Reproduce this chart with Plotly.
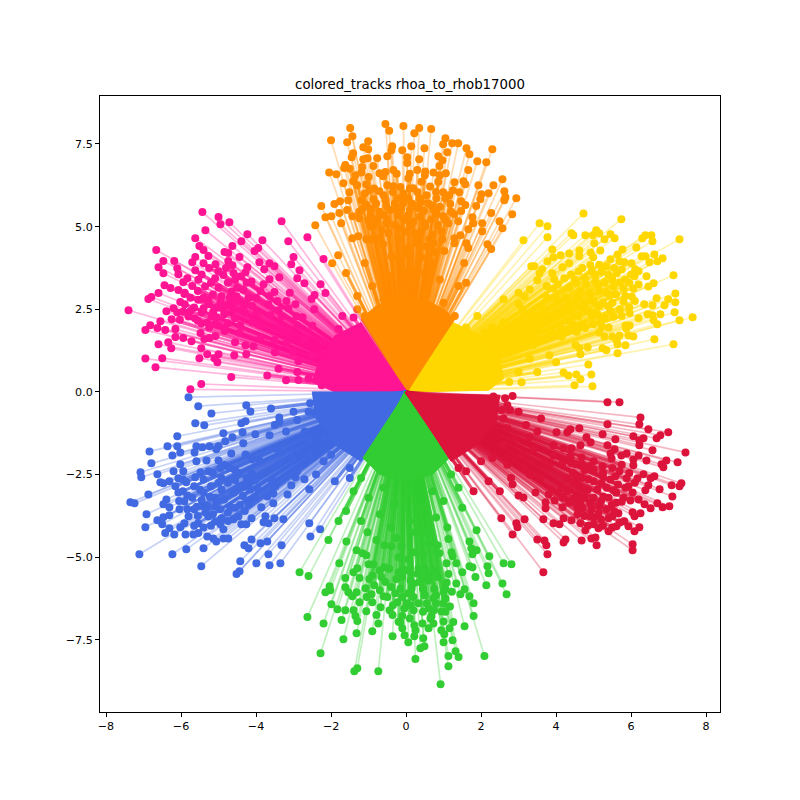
import plotly.graph_objects as go

# ── Track end points (all tracks start at the origin) ──

gold_ends = [(4.73,5.40),(5.74,5.22),(3.56,5.10),(3.77,5.01),(3.77,4.68),(3.13,4.59),(4.41,4.80),(4.46,4.74),(4.78,4.74),(5.07,4.89),
    (4.98,4.74),(5.15,4.80),(5.45,4.77),(5.56,4.65),(5.29,4.62),(5.02,4.50),(5.18,4.28),(7.29,4.62),(6.38,4.74),(6.54,4.74),
    (6.30,4.65),(6.57,4.56),(6.14,4.37),(5.77,4.31),(3.90,4.31),(4.12,4.13),(3.93,4.07),(3.77,3.95),(4.35,4.19),(4.62,4.28),
    (4.62,4.10),(4.92,4.22),(4.99,4.07),(5.64,4.16),(5.45,4.01),(5.69,3.95),(5.82,3.92),(6.01,3.89),(6.28,4.10),(6.38,4.10),
    (6.62,4.16),(6.84,4.04),(6.49,3.92),(6.70,3.95),(6.11,3.71),(6.20,3.65),(6.09,3.50),(6.41,3.50),(7.13,3.53),(6.60,3.29),
    (6.46,3.19),(7.18,2.98),(6.99,2.80),(7.18,2.71),(6.68,2.83),(6.89,2.62),(6.57,2.62),(6.35,2.65),(7.16,2.41),(6.78,2.35),
    (7.64,2.26),(7.29,2.17),(6.44,2.35),(6.57,2.32),(6.20,2.23),(5.96,2.38),(6.60,2.17),(6.70,2.05),(6.62,1.59),(7.13,1.44),
    (5.85,2.01),(5.96,2.01),(5.87,1.92),(6.06,1.68),(5.93,1.71),(5.85,1.41),(5.64,1.17),(5.69,1.71),(5.50,1.68),(5.61,1.56),
    (5.64,1.44),(5.29,1.68),(5.34,1.26),(5.24,1.32),(4.84,1.35),(4.52,1.41),(4.62,1.32),(4.65,1.14),(3.82,1.11),(4.86,0.83),
    (4.94,0.53),(4.20,0.59),(4.33,0.50),(4.54,0.53),(4.65,0.38),(4.49,0.20),(4.97,0.17),(3.08,0.29),(3.34,3.80),(3.42,3.80),
    (3.63,3.71),(3.56,3.59),(3.50,3.38),(3.90,3.59),(3.95,3.41),(4.17,3.77),(4.35,3.89),(4.22,3.44),(4.60,3.64),(4.77,3.44),
    (4.55,3.29),(4.91,3.84),(5.04,3.54),(5.22,3.64),(5.40,3.54),(5.62,3.59),(5.84,3.39),(5.13,3.23),(5.53,3.18),(5.80,3.13),
    (6.06,3.13),(6.02,2.88),(5.80,2.73),(5.44,2.93),(5.40,2.58),(5.13,2.58),(4.91,2.78),(4.60,2.88),(4.37,2.68),(3.93,3.13),
    (4.02,2.78),(4.68,2.53),(4.95,2.33),(5.31,2.23),(5.53,2.27),(5.22,1.97),(4.77,1.93),(4.55,1.82),(4.33,2.17),(4.11,1.93),
    (4.15,1.67),(3.16,2.88),(3.00,2.66),(3.31,2.38),(3.66,2.38),(3.84,1.87),(3.39,1.42)]
gold_dense = [(4.4,3.55),(4.7,3.75),(4.95,3.65),(5.15,3.85),(5.35,3.8),(5.55,3.75),(5.75,3.7),(6.0,3.55),(4.5,3.4),(4.8,3.25),
    (5.05,3.35),(5.3,3.3),(5.5,3.4),(5.7,3.3),(5.95,3.3),(6.2,3.25),(4.35,3.15),(4.65,3.05),(4.9,3.0),(5.15,3.05),
    (5.35,3.0),(5.6,2.95),(5.85,2.9),(6.1,2.75),(4.25,2.85),(4.5,2.7),(4.75,2.65),(5.0,2.75),(5.25,2.7),(5.5,2.7),
    (5.7,2.5),(5.95,2.55),(4.4,2.45),(4.6,2.3),(4.85,2.45),(5.1,2.35),(5.2,2.15),(5.45,2.45),(5.75,2.3),(4.2,2.4),
    (4.45,2.05),(4.7,2.05),(5.0,2.05),(5.15,1.8),(5.4,1.95),(4.05,2.35),(3.75,2.85),(4.05,3.25),(3.75,3.2),(3.6,2.6)]
gold_rim = [(3.0,2.0),(2.6,2.1),(3.2,1.5),(3.5,1.9),(3.3,1.0),(3.0,0.6),(2.8,1.3),(2.3,1.95),(2.75,0.3),(2.5,1.6),
    (2.1,1.8),(1.6,1.95),(1.9,2.3),(3.3,3.1),(2.6,2.8),(3.0,3.0),(3.5,0.6),(4.0,0.9),(3.1,2.5)]

orange_ends = [(-1.49,7.98),(-0.55,8.10),(-0.45,7.90),(-0.07,8.04),(0.35,7.98),(0.22,7.82),(0.67,7.95),(-2.00,7.61),(-1.43,7.73),(-1.57,7.55),
    (-1.01,7.58),(1.05,7.67),(0.99,7.49),(1.23,7.52),(1.39,7.52),(1.61,7.37),(1.69,7.19),(2.30,7.34),(1.90,6.98),(2.14,6.95),
    (1.10,7.25),(0.49,7.37),(-0.10,7.31),(-0.37,7.43),(0.14,7.43),(-0.39,7.31),(-0.50,7.13),(-1.14,7.40),(-1.41,7.22),(-1.45,7.10),
    (-1.01,7.34),(-1.14,7.04),(-0.77,7.07),(-1.03,7.07),(-1.62,6.86),(-1.65,6.77),(-2.05,6.64),(-1.86,6.58),(-1.17,6.80),(-1.19,6.64),
    (-0.87,6.83),(-0.71,6.61),(-0.61,6.52),(-0.34,6.71),(0.03,7.10),(0.03,6.92),(0.35,7.04),(0.30,6.71),(0.51,6.67),(0.86,7.13),
    (0.97,7.01),(0.89,6.83),(0.73,6.64),(1.06,6.61),(1.66,6.71),(2.57,6.43),(1.29,6.34),(1.53,6.37),(1.58,6.28),(1.93,6.25),
    (2.33,6.25),(2.62,6.07),(2.20,6.01),(2.01,5.98),(1.98,5.83),(2.65,5.89),(2.62,5.80),(2.94,5.86),(1.87,5.62),(2.27,5.41),
    (2.83,5.37),(2.49,5.16),(2.57,4.95),(2.03,5.10),(2.03,4.86),(1.77,5.28),(1.79,5.10),(1.66,4.92),(1.42,6.04),(1.47,5.77),
    (1.58,5.65),(1.47,5.47),(1.18,5.68),(0.99,6.04),(1.15,5.95),(1.29,5.37),(1.39,5.16),(1.13,5.10),(0.99,5.31),(1.45,4.74),
    (1.29,4.65),(1.29,4.50),(1.61,4.50),(1.66,4.35),(2.17,4.47),(2.27,4.32),(1.02,4.26),(0.97,4.62),(0.75,4.23),(0.73,4.50),
    (0.62,4.62),(0.51,5.01),(0.11,5.04),(0.30,4.65),(0.06,4.35),(0.06,4.16),(0.41,4.07),(-0.39,4.10),(0.19,3.68),(-1.81,4.13),
    (-1.97,3.89),(-2.42,5.04),(-2.26,5.62),(-2.15,5.28),(-1.99,5.31),(-1.91,5.68),(-1.78,5.41),(-1.73,5.10),(-1.57,5.50),(-1.76,5.77),
    (-1.54,5.80),(-1.51,6.04),(-1.67,6.31),(-1.41,6.37),(-1.30,6.25),(-1.43,5.31),(-1.25,5.25),(-1.43,4.65),(-1.27,4.71),(-1.06,4.62),
    (-0.95,4.62),(-0.74,4.65),(-0.61,4.47),(-0.47,4.80),(-0.21,4.65),(-1.01,5.19),(-0.95,5.01),(-0.79,5.22),(-0.61,5.34),(-0.53,5.10),
    (-1.19,5.80),(-1.17,5.53),(-0.93,5.53),(-0.87,5.83),(-1.06,6.28),(-0.98,6.10),(-0.71,6.07),(-0.50,6.25),(-0.34,6.22),(-0.53,5.62),
    (-0.21,5.86),(-0.07,6.01),(0.06,6.46),(-0.07,5.71),(-0.21,5.56),(0.06,5.86),(0.19,6.16),(0.41,6.36),(0.64,6.21),(0.86,6.36),
    (0.37,5.86),(0.59,5.71),(0.81,5.86),(0.73,5.51),(0.33,5.56),(0.37,5.30),(0.68,5.22),(-0.21,5.35),(0.10,5.50),(0.24,4.80),
    (-0.03,4.85),(0.28,4.50),(0.55,4.40)]
orange_dense = [(-1.1,6.0),(-0.85,6.15),(-0.6,5.95),(-0.35,6.05),(-0.15,6.2),(0.1,6.15),(0.3,6.05),(0.55,5.95),(0.8,6.05),(1.05,5.85),
    (-1.05,5.65),(-0.8,5.7),(-0.55,5.8),(-0.3,5.7),(-0.1,5.85),(0.15,5.7),(0.4,5.75),(0.65,5.65),(0.9,5.6),(1.2,5.45),
    (-1.25,5.45),(-0.95,5.35),(-0.7,5.45),(-0.42,5.5),(-0.12,5.55),(0.05,5.35),(0.22,5.62),(0.48,5.48),(0.82,5.38),(1.05,5.2),
    (-0.85,5.05),(-0.5,5.2),(-0.3,5.05),(-0.05,5.2),(0.2,5.15),(0.5,5.1),(0.85,5.05),(0.95,4.85),(-0.65,4.9),(-0.2,4.95),
    (0.4,4.85),(0.7,4.75),(-0.55,6.65),(-0.25,6.6),(0.1,6.6),(0.5,6.55),(0.9,6.55),(-1.0,6.5),(-1.35,6.55),(-1.5,6.75),(1.25,6.1)]
orange_rim = [(-0.9,3.2),(-0.4,3.5),(0.1,3.3),(0.5,3.6),(0.9,3.4),(1.4,3.2),(-1.3,2.9),(-0.6,2.8),(0,2.95),(0.5,3.0),
    (1.0,2.7),(1.3,2.3),(-1.1,2.3),(-1.3,2.5),(0.0,3.6),(-0.2,4.0),(1.6,3.3),(0.7,3.9),(-1.1,3.9),(1.55,3.9),(-1.6,3.6)]

pink_ends = [(-5.43,5.44),(-5.00,5.29),(-4.95,5.07),(-4.71,5.13),(-3.32,5.16),(-5.35,4.89),(-5.62,4.65),(-4.23,4.77),(-4.39,4.56),(-3.83,4.59),
    (-3.14,4.56),(-2.63,4.68),(-6.66,4.29),(-5.51,4.41),(-5.40,4.29),(-4.63,4.41),(-3.94,4.35),(-4.04,4.26),(-4.84,4.23),(-4.74,4.20),
    (-5.27,4.11),(-4.44,4.08),(-2.20,4.02),(-3.00,4.08),(-3.06,3.86),(-6.47,3.96),(-6.60,3.77),(-6.18,3.96),(-5.62,4.08),(-5.70,3.92),
    (-5.40,3.89),(-5.08,3.86),(-4.74,3.96),(-4.63,3.83),(-3.91,3.92),(-3.64,3.89),(-3.51,3.80),(-4.23,3.77),(-4.28,3.62),(-3.78,3.71),
    (-2.84,3.68),(-6.47,3.59),(-6.10,3.74),(-6.07,3.56),(-5.62,3.68),(-3.38,3.47),(-3.64,3.41),(-2.90,3.44),(-2.71,3.29),(-2.28,3.26),
    (-2.15,2.99),(-2.44,2.93),(-2.52,2.81),(-5.94,3.32),(-5.83,3.44),(-6.44,3.23),(-6.28,3.14),(-6.60,2.99),(-6.79,2.87),(-6.87,2.81),
    (-6.07,3.08),(-5.91,2.96),(-6.02,2.72),(-7.40,2.47),(-6.39,2.44),(-6.20,2.53),(-6.55,2.14),(-6.82,2.02),(-6.95,1.87),(-6.63,1.93),
    (-6.42,1.87),(-6.15,1.90),(-6.15,1.66),(-5.94,1.63),(-5.72,1.53),(-6.34,1.50),(-6.60,1.44),(-6.26,1.32),(-6.95,1.01),(-6.50,1.02),
    (-6.68,0.75),(-5.51,1.02),(-5.30,1.14),(-5.00,1.14),(-5.11,1.02),(-5.03,0.90),(-4.58,1.11),(-4.26,1.14),(-5.46,1.32),(-4.66,0.45),
    (-2.87,0.36),(-5.46,0.24),(-5.75,0.08),(-4.56,1.50),(-4.28,1.41),(-4.07,1.38),(-3.88,1.66),(-4.44,1.78),(-5.08,1.69),(-5.24,1.63),
    (-5.38,1.60),(-5.48,1.78),(-4.84,1.84),(-5.00,2.02),(-3.91,2.02),(-4.42,2.02),(-4.10,2.11),(-3.38,1.96),(-3.16,1.87),(-3.51,1.57),
    (-3.19,1.47),(-2.87,0.93),(-2.20,1.17),(-2.76,2.26),(-2.92,2.29),(-2.95,2.65),(-3.19,2.75),(-3.14,2.53),(-3.43,2.75),(-3.40,2.47),
    (-3.64,2.90),(-3.51,3.02),(-3.88,3.05),(-3.80,3.26),(-3.67,2.65),(-3.99,2.38),(-3.99,2.84),(-3.62,2.32),(-3.32,2.28),(-4.31,2.62),
    (-4.38,2.48),(-4.56,2.23),(-4.74,2.08),(-5.63,2.23),(-5.80,2.28),(-6.03,2.18),(-5.94,2.43),(-5.54,3.39),(-5.36,3.19),(-5.09,3.44),
    (-4.87,3.54),(-4.56,3.39),(-4.34,3.09),(-4.65,3.04),(-4.92,2.89),(-5.27,2.79),(-5.54,2.79),(-5.40,2.53),(-5.14,2.43),(-4.74,2.63),
    (-4.52,2.89),(-4.12,3.34),(-5.45,2.08),(-5.18,2.28)]
pink_dense = [(-5.7,3.2),(-5.45,3.55),(-5.25,3.75),(-5.0,3.65),(-4.8,3.75),(-4.6,3.6),(-4.4,3.5),(-5.75,2.85),(-5.55,3.05),(-5.2,3.3),
    (-5.0,3.15),(-4.75,3.3),(-4.5,3.15),(-4.25,3.3),(-5.65,2.55),(-5.4,2.85),(-5.15,2.95),(-4.95,2.7),(-4.7,2.85),(-4.45,2.75),
    (-4.2,2.85),(-5.75,2.45),(-5.45,2.4),(-5.25,2.65),(-5.05,2.55),(-4.85,2.35),(-4.6,2.5),(-4.3,2.4),(-5.55,2.15),(-5.3,2.1),
    (-5.05,2.25),(-4.9,2.55),(-5.1,2.05),(-4.65,2.7),(-4.1,2.6),(-5.9,3.0),(-5.9,2.65),(-6.1,2.4),(-6.25,2.2),(-5.25,1.95),(-4.85,1.95)]
pink_rim = [(-3.0,1.2),(-2.7,1.6),(-2.5,2.0),(-2.9,2.0),(-2.6,0.4),(-2.9,0.6),(-2.5,1.1),(-2.2,1.5),(-2.15,0.7),(-1.8,1.9),
    (-1.4,2.25),(-1.7,2.3),(-3.5,1.2),(-3.4,0.7),(-2.45,2.5),(-3.1,3.0),(-2.25,0.2),(-3.7,0.5),(-3.2,0.35)]

blue_ends = [(-5.80,-0.16),(-5.54,-0.43),(-5.19,-0.65),(-4.26,-0.40),(-4.15,-0.59),(-5.62,-0.95),(-5.38,-1.01),(-4.39,-0.95),(-4.28,-0.89),(-3.38,-0.77),
    (-3.38,-0.92),(-2.90,-0.85),(-2.56,-0.34),(-6.10,-1.34),(-4.87,-1.25),(-4.36,-1.22),(-4.02,-1.28),(-3.64,-1.31),(-4.82,-1.49),(-4.63,-1.37),
    (-6.84,-1.80),(-6.36,-1.64),(-6.10,-1.64),(-6.02,-1.83),(-6.23,-1.92),(-5.59,-1.64),(-5.64,-1.83),(-5.43,-1.67),(-5.24,-1.64),(-5.00,-1.64),
    (-5.06,-1.73),(-4.34,-1.55),(-4.66,-1.86),(-6.79,-2.16),(-6.02,-2.19),(-5.59,-2.10),(-5.32,-2.07),(-5.00,-2.07),(-4.28,-1.89),(-4.10,-2.04),
    (-3.91,-2.07),(-7.08,-2.43),(-7.06,-2.58),(-6.63,-2.49),(-6.20,-2.40),(-5.94,-2.40),(-6.55,-2.73),(-6.47,-2.76),(-6.31,-2.70),(-6.07,-2.61),
    (-5.86,-2.73),(-5.62,-2.58),(-5.48,-2.43),(-5.27,-2.40),(-6.87,-3.10),(-7.35,-3.34),(-7.24,-3.37),(-6.07,-3.04),(-6.39,-3.25),(-6.47,-3.40),
    (-6.31,-3.49),(-6.04,-3.55),(-5.83,-3.13),(-5.91,-3.31),(-5.83,-3.55),(-6.92,-3.70),(-6.95,-4.09),(-6.63,-3.88),(-6.47,-3.79),(-6.50,-4.00),
    (-6.31,-3.73),(-5.80,-3.76),(-5.91,-3.97),(-5.54,-3.97),(-6.31,-4.12),(-6.42,-4.27),(-6.18,-4.31),(-6.02,-4.09),(-5.88,-4.31),(-5.67,-4.31),
    (-5.54,-4.27),(-5.30,-4.37),(-5.14,-4.43),(-5.06,-4.52),(-4.87,-4.15),(-4.87,-4.43),(-4.74,-4.43),(-7.11,-4.91),(-6.23,-4.91),(-5.86,-4.76),
    (-5.40,-4.73),(-5.46,-5.27),(-4.31,-4.64),(-4.20,-4.73),(-4.12,-4.46),(-3.88,-4.58),(-3.70,-4.52),(-3.32,-4.64),(-3.67,-4.91),(-4.42,-5.12),
    (-3.99,-5.18),(-3.64,-5.24),(-3.35,-5.18),(-4.44,-5.42),(-4.52,-5.51),(-2.55,-4.37),(-2.58,-3.97),(-2.29,-4.15),(-3.27,-3.85),(-3.51,-3.82),
    (-3.75,-3.76),(-3.80,-3.94),(-3.67,-3.97),(-4.12,-3.82),(-4.26,-4.00),(-4.39,-4.00),(-3.54,-3.37),(-3.86,-3.49),(-3.16,-3.10),(-2.58,-2.94),
    (-3.06,-2.82),(-2.95,-2.58),(-2.71,-2.64),(-3.54,-3.07),(-3.70,-3.16),(-3.58,-2.66),(-3.49,-2.86),(-4.83,-2.21),(-4.56,-2.36),(-4.92,-2.61),
    (-4.56,-2.66),(-4.29,-2.86),(-4.92,-2.96),(-5.23,-3.17),(-5.45,-3.27),(-5.09,-3.47),(-4.69,-3.47),(-4.43,-3.42),(-4.16,-3.27),(-5.27,-3.77),
    (-4.92,-3.82),(-4.47,-3.77),(-5.58,-3.47),(-5.49,-2.96),(-5.09,-3.92),(-4.03,-2.66),(-3.94,-2.96),(-4.12,-2.46),(-2.43,-0.65),(-2.87,-1.76),
    (-2.60,-1.45)]
blue_dense = [(-5.65,-2.85),(-5.4,-2.65),(-5.15,-2.45),(-4.95,-2.3),(-4.7,-2.3),(-4.45,-2.45),(-4.25,-2.6),(-5.7,-3.2),(-5.4,-3.05),(-5.2,-2.85),
    (-5.0,-2.75),(-4.75,-2.75),(-4.45,-2.85),(-4.15,-2.95),(-5.65,-3.55),(-5.45,-3.45),(-5.3,-3.45),(-5.1,-3.2),(-4.85,-3.25),(-4.6,-3.05),
    (-4.35,-3.15),(-4.05,-3.2),(-5.55,-3.75),(-5.35,-3.65),(-5.15,-3.7),(-4.95,-3.55),(-4.75,-3.65),(-4.55,-3.5),(-4.3,-3.6),(-5.05,-3.3),
    (-5.2,-4.05),(-4.95,-4.0),(-4.75,-3.9),(-4.6,-3.85),(-5.4,-4.1),(-5.65,-4.05),(-4.2,-3.4),(-6.15,-2.85),(-5.95,-3.0),(-6.05,-3.3),(-5.95,-2.65)]
blue_rim = [(-3.2,-1.2),(-3.0,-0.6),(-3.4,-1.8),(-3.0,-2.0),(-2.7,-1.2),(-2.6,-0.6),(-2.55,-1.9),(-2.2,-2.1),(-2.0,-1.9),(-1.5,-2.3),
    (-2.9,-2.4),(-1.5,-2.6),(-1.9,-2.7),(-2.4,-2.5),(-3.4,-2.2),(-2.2,-1.4),(-2.2,-0.4),(-3.6,-0.5),(-3.5,-1.0)]

green_ends = [(-1.03,-4.24),(-2.07,-4.48),(-1.59,-4.52),(-0.79,-4.48),(-0.26,-4.42),(0.25,-4.24),(0.62,-4.30),(1.13,-4.45),(1.88,-4.18),(1.69,-4.52),
    (1.74,-4.73),(1.88,-4.79),(1.77,-4.91),(2.22,-4.97),(2.60,-5.18),(2.81,-5.21),(2.17,-5.27),(2.20,-5.48),(2.57,-5.79),(2.68,-6.12),
    (2.14,-5.85),(1.85,-5.60),(1.50,-5.45),(1.69,-5.27),(1.77,-5.30),(1.34,-5.18),(1.08,-5.18),(1.21,-4.85),(1.24,-4.97),(0.89,-4.88),
    (-2.84,-5.45),(-2.60,-5.57),(-1.78,-5.18),(-1.32,-4.79),(-1.16,-4.88),(-1.06,-4.94),(-0.58,-4.64),(-0.39,-4.67),(-0.12,-4.67),(0.22,-4.85),
    (0.46,-4.94),(0.60,-4.58),(0.84,-4.64),(-0.20,-5.00),(0.06,-5.06),(-1.00,-5.21),(-0.87,-5.21),(-0.58,-5.30),(-1.30,-5.33),(-1.40,-5.45),
    (-1.62,-5.63),(-1.24,-5.63),(-0.98,-5.66),(-0.66,-5.60),(-0.26,-5.66),(-0.07,-5.36),(0.33,-5.33),(0.60,-5.48),(1.13,-5.51),(1.08,-5.76),
    (1.34,-5.79),(1.45,-6.12),(1.56,-5.97),(1.69,-6.18),(1.80,-6.39),(1.80,-6.78),(1.56,-7.09),(1.26,-6.96),(1.16,-7.15),(0.94,-7.21),
    (1.02,-7.33),(1.24,-7.51),(1.00,-7.57),(1.32,-7.84),(1.40,-8.02),(1.13,-7.99),(1.13,-8.30),(2.09,-7.99),(0.92,-8.84),(0.25,-8.08),
    (0.38,-7.75),(0.49,-7.69),(0.46,-7.45),(0.06,-7.57),(0.22,-7.39),(-0.04,-7.36),(-0.36,-7.39),(-0.15,-6.97),(-0.10,-7.15),(0.22,-7.06),
    (0.25,-7.21),(0.44,-7.00),(0.60,-7.15),(0.73,-7.00),(0.68,-6.78),(-0.74,-8.45),(-1.30,-8.36),(-1.38,-8.45),(-2.28,-7.90),(-1.67,-7.48),
    (-1.32,-7.30),(-0.90,-7.24),(-0.74,-7.00),(-1.30,-6.93),(-1.35,-6.78),(-1.72,-6.90),(-2.20,-7.00),(-2.63,-6.81),(-1.99,-6.42),(-1.83,-6.57),
    (-1.62,-6.60),(-1.40,-6.60),(-1.06,-6.63),(-0.79,-6.75),(-0.68,-6.51),(-0.44,-6.60),(-0.36,-6.75),(-0.10,-6.78),(-2.15,-6.06),(-2.04,-5.88),
    (-2.02,-6.00),(-1.62,-5.91),(-1.54,-6.06),(-1.32,-6.06),(-1.43,-6.18),(-1.24,-6.36),(-1.08,-5.94),(-0.92,-6.12),(-0.90,-6.36),(-0.60,-6.18),
    (-0.29,-6.09),(-0.23,-6.36),(0.06,-6.09),(0.02,-6.39),(0.33,-6.39),(0.20,-5.79),(0.46,-5.63),(0.73,-6.24),(1.00,-6.04),(0.60,-6.54),
    (0.95,-6.64),(1.17,-6.49),(1.00,-6.94),(1.22,-6.04)]
green_dense = [(-0.9,-5.55),(-0.7,-5.4),(-0.45,-5.35),(-0.2,-5.45),(0.05,-5.4),(0.3,-5.5),(0.5,-5.35),(0.75,-5.4),(-0.55,-5.75),(-0.4,-5.9),
    (-0.1,-5.6),(0.12,-5.7),(0.35,-5.75),(0.6,-5.7),(0.85,-5.6),(-0.85,-5.85),(-0.7,-6.0),(-0.5,-6.2),(-0.15,-5.95),(0.15,-5.95),
    (0.45,-5.95),(0.75,-5.95),(1.05,-5.95),(-1.05,-6.2),(-0.1,-6.2),(0.2,-6.2),(0.5,-6.15),(0.8,-6.15),(1.05,-6.25),(-0.35,-6.45),
    (0.1,-6.45),(0.55,-6.4),(0.8,-6.4),(1.0,-6.4),(0.2,-6.6),(0.45,-6.65),(0.75,-6.6),(1.05,-6.65),(-0.2,-6.95),(0.1,-6.85),(0.65,-6.85),(-0.05,-6.55)]
green_rim = [(-1.2,-2.6),(-0.6,-2.9),(0.1,-3.0),(0.7,-3.0),(1.2,-2.5),(-1.0,-3.2),(-0.3,-3.4),(0.4,-3.5),(1.0,-3.3),(1.4,-2.9),
    (-1.4,-3.0),(-0.7,-3.7),(0.1,-3.9),(0.8,-3.8),(1.5,-3.5),(-1.6,-3.6),(-1.2,-3.9),(1.1,-4.1),(-0.4,-4.1),(0.5,-4.2),(-1.8,-3.9)]

red_ends = [(5.37,-0.31),(5.69,-0.31),(6.25,-0.77),(6.22,-0.98),(5.37,-0.98),(6.46,-1.13),(6.99,-1.22),(6.78,-1.31),(6.68,-1.40),(7.45,-1.83),
    (6.57,-1.76),(6.06,-1.34),(6.33,-1.40),(6.22,-1.46),(6.22,-1.61),(5.58,-1.43),(5.24,-1.28),(4.62,-1.10),(4.38,-1.13),(4.30,-1.22),
    (4.01,-1.22),(3.29,-1.37),(3.40,-1.73),(3.16,-2.31),(2.84,-2.79),(3.00,-3.13),(3.13,-3.19),(3.45,-3.04),(3.58,-2.58),(3.69,-2.10),
    (3.82,-2.22),(3.93,-1.61),(3.93,-1.92),(4.17,-2.16),(4.20,-1.70),(4.41,-1.70),(4.38,-1.95),(4.65,-1.61),(4.68,-1.98),(4.81,-1.37),
    (4.92,-1.52),(5.37,-1.61),(5.56,-1.73),(5.45,-1.86),(5.74,-1.92),(5.88,-1.86),(6.20,-1.92),(6.06,-2.04),(6.41,-2.07),(6.06,-2.22),
    (6.94,-2.07),(6.81,-2.19),(6.86,-2.28),(7.24,-2.13),(6.62,-2.55),(6.52,-2.61),(6.33,-2.49),(6.17,-2.61),(7.34,-2.76),(7.29,-2.85),
    (7.08,-2.82),(6.76,-2.94),(6.46,-2.82),(6.38,-2.97),(7.10,-3.16),(6.04,-3.04),(5.98,-3.28),(5.69,-2.40),(5.58,-2.55),(5.88,-2.61),
    (5.93,-2.85),(5.24,-2.25),(5.48,-2.01),(5.00,-2.10),(4.89,-2.25),(4.76,-2.37),(4.52,-2.19),(4.54,-2.61),(4.28,-2.61),(4.86,-2.64),
    (5.21,-2.76),(4.73,-2.94),(4.46,-2.76),(4.14,-2.91),(3.88,-2.95),(3.80,-3.10),(3.96,-3.28),(4.17,-3.19),(3.72,-3.34),(3.72,-3.52),
    (4.17,-3.49),(4.46,-3.22),(4.57,-3.49),(4.57,-3.70),(4.20,-3.82),(4.41,-3.88),(3.93,-3.97),(4.09,-4.00),(3.66,-3.85),(3.16,-3.85),
    (2.54,-3.82),(2.94,-3.97),(2.97,-4.09),(2.84,-4.31),(3.50,-4.46),(3.69,-4.49),(3.74,-4.64),(3.77,-4.91),(3.66,-5.45),(4.25,-4.46),
    (4.20,-4.55),(4.68,-4.49),(4.65,-3.97),(5.08,-4.64),(4.94,-4.43),(5.05,-4.40),(4.78,-4.18),(5.00,-4.00),(5.13,-4.12),(5.40,-4.21),
    (5.61,-4.06),(6.04,-4.61),(6.04,-4.79),(6.09,-4.21),(6.22,-4.09),(5.93,-4.06),(5.82,-3.91),(6.04,-3.64),(6.09,-3.76),(6.25,-3.67),
    (6.36,-3.40),(6.52,-3.52),(6.70,-3.37),(6.84,-3.49),(7.02,-3.46),(5.66,-3.67),(5.40,-3.82),(5.13,-3.67),(4.91,-3.37),(5.26,-3.17),
    (5.53,-2.97),(5.75,-3.32),(5.48,-3.42),(4.91,-3.77),(4.64,-3.32),(2.64,-0.19),(2.84,-0.12),(2.55,-0.55),(2.77,-0.55),(2.60,-0.80),
    (2.33,-0.14)]
red_dense = [(4.4,-2.15),(4.7,-2.2),(5.0,-2.35),(5.25,-2.45),(5.5,-2.3),(5.75,-2.2),(5.95,-2.45),(4.45,-2.45),(4.7,-2.6),(5.0,-2.7),
    (5.25,-2.55),(5.45,-2.65),(5.65,-2.8),(5.85,-2.9),(4.6,-2.85),(4.85,-2.95),(5.1,-2.95),(5.35,-2.9),(5.6,-3.05),(5.8,-3.2),
    (4.3,-3.0),(4.55,-3.1),(4.75,-3.2),(5.0,-3.2),(5.2,-3.3),(5.4,-3.2),(5.6,-3.35),(4.35,-3.35),(4.7,-3.5),(4.95,-3.55),
    (5.15,-3.45),(5.35,-3.55),(5.55,-3.6),(4.75,-3.75),(5.0,-3.8),(5.2,-3.85),(5.5,-3.75),(5.7,-3.95),(4.85,-4.05),(5.25,-4.05),
    (5.5,-4.1),(6.2,-3.25),(6.1,-2.75)]
red_rim = [(3.2,-1.0),(3.0,-0.6),(2.9,-1.4),(3.1,-1.9),(2.6,-1.6),(2.7,-0.4),(2.7,-1.1),(2.3,-2.0),(2.0,-2.1),(1.6,-2.4),
    (1.4,-2.3),(2.7,-2.2),(2.2,-2.7),(1.8,-3.0),(3.3,-2.5),(2.8,-2.6),(2.5,-3.0),(3.6,-0.8),(3.5,-1.2)]

# solid core of each fan, where the lines and dots merge into one colour
gold_core = [(0,0),(1.25,2.1),(2.0,1.7),(2.5,1.0),(2.6,0.4),(2.2,0.05),(0,0)]
orange_core = [(0,0),(-1.2,2.2),(-0.8,2.6),(-0.2,2.9),(0.5,2.8),(1.0,2.5),(1.3,2.2),(0,0)]
pink_core = [(0,0),(-1.2,2.1),(-1.9,1.7),(-2.3,1.0),(-2.5,0.3),(-1.9,0.0),(0,0)]
blue_core = [(0,0),(-2.5,0.0),(-2.4,-0.8),(-1.9,-1.6),(-1.2,-2.1),(0,0)]
green_core = [(0,0),(-1.15,-2.0),(-0.7,-2.5),(0,-2.7),(0.7,-2.5),(1.15,-2.0),(0,0)]
red_core = [(0,0),(1.2,-2.1),(1.9,-1.6),(2.4,-0.9),(2.5,-0.1),(0.2,-0.05),(0,0)]

# drawing order follows the picture: each group covers the ones before it
groups = [
    ("#FFD700", "255,215,0", gold_ends, gold_dense + gold_rim, gold_core),
    ("#FF8C00", "255,140,0", orange_ends, orange_dense + orange_rim, orange_core),
    ("#FF1493", "255,20,147", pink_ends, pink_dense + pink_rim, pink_core),
    ("#4169E1", "65,105,225", blue_ends, blue_dense + blue_rim, blue_core),
    ("#32CD32", "50,205,50", green_ends, green_dense + green_rim, green_core),
    ("#DC143C", "220,20,60", red_ends, red_dense + red_rim, red_core),
]

fig = go.Figure()

for colour, rgb, ends, packed, core in groups:
    # one trace per track, so that the overlapping lines build up colour;
    # the packed tracks stand in for the many more the picture has there
    for x, y in packed:
        fig.add_trace(go.Scatter(
            x=[0, x], y=[0, y], mode="lines",
            line=dict(color=f"rgba({rgb},0.7)", width=3.2),
            showlegend=False, hoverinfo="skip"
        ))
    for x, y in ends:
        fig.add_trace(go.Scatter(
            x=[0, x], y=[0, y], mode="lines",
            line=dict(color=f"rgba({rgb},0.3)", width=1.7),
            showlegend=False, hoverinfo="skip"
        ))
    fig.add_trace(go.Scatter(
        x=[p[0] for p in core], y=[p[1] for p in core],
        mode="lines", fill="toself", fillcolor=colour,
        line=dict(color=colour, width=1),
        showlegend=False, hoverinfo="skip"
    ))
    all_ends = ends + packed
    fig.add_trace(go.Scatter(
        x=[p[0] for p in all_ends], y=[p[1] for p in all_ends],
        mode="markers",
        marker=dict(size=8, color=colour, line=dict(width=0)),
        showlegend=False
    ))

fig.update_layout(
    width=800, height=800,
    title=dict(text="colored_tracks rhoa_to_rhob17000",
               font=dict(family="DejaVu Sans", size=13.3, color="black"),
               x=0.5025, xanchor="center", y=0.904, yanchor="middle"),
    font=dict(family="DejaVu Sans", size=11.1, color="black"),
    plot_bgcolor="white", paper_bgcolor="white",
    margin=dict(l=92, r=88, t=88, b=96, pad=0),
    showlegend=False
)
fig.update_xaxes(range=[-8.16, 8.37], tickvals=[-8, -6, -4, -2, 0, 2, 4, 6, 8],
                 showgrid=False, zeroline=False, showline=True, mirror=True,
                 linecolor="black", linewidth=1, ticks="outside", ticklen=4,
                 tickwidth=1, tickcolor="black")
fig.update_yaxes(range=[-9.68, 8.95], tickvals=[-7.5, -5, -2.5, 0, 2.5, 5, 7.5],
                 tickformat=".1f",
                 showgrid=False, zeroline=False, showline=True, mirror=True,
                 linecolor="black", linewidth=1, ticks="outside", ticklen=4,
                 tickwidth=1, tickcolor="black")

fig.write_html("out.html")
